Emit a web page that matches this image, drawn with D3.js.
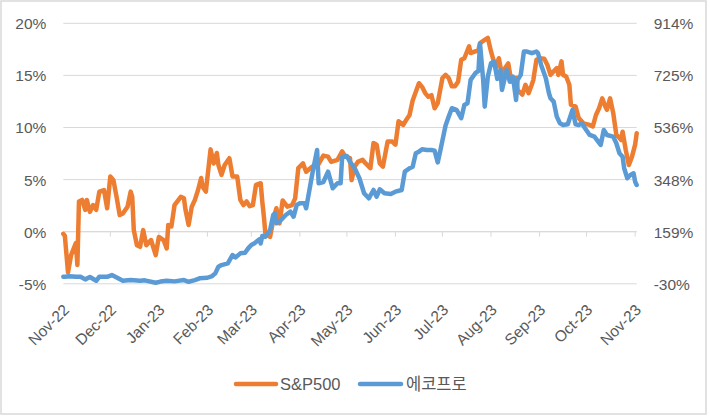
<!DOCTYPE html>
<html><head><meta charset="utf-8">
<script src="https://cdn.jsdelivr.net/npm/d3@7"></script>
<style>
body{margin:0;background:#fff;}
svg{display:block;font-family:"Liberation Sans",Arial,"Noto Sans CJK KR",sans-serif;}
</style></head><body>
<svg id="chart" width="710" height="416"></svg>
<script>
const seriesNames = ["S&P500", "에코프로"];
const spDates = ["2022-11-01","2022-11-02","2022-11-04","2022-11-06","2022-11-09","2022-11-10","2022-11-11","2022-11-13","2022-11-15","2022-11-16","2022-11-18","2022-11-20","2022-11-22","2022-11-24","2022-11-27","2022-11-29","2022-12-01","2022-12-03","2022-12-05","2022-12-07","2022-12-09","2022-12-12","2022-12-14","2022-12-15","2022-12-16","2022-12-18","2022-12-20","2022-12-22","2022-12-24","2022-12-27","2022-12-30","2023-01-01","2023-01-04","2023-01-06","2023-01-07","2023-01-09","2023-01-11","2023-01-15","2023-01-17","2023-01-18","2023-01-20","2023-01-22","2023-01-24","2023-01-26","2023-01-28","2023-01-29","2023-01-31","2023-02-02","2023-02-03","2023-02-05","2023-02-07","2023-02-08","2023-02-10","2023-02-12","2023-02-15","2023-02-17","2023-02-20","2023-02-22","2023-02-24","2023-02-26","2023-02-28","2023-03-02","2023-03-04","2023-03-07","2023-03-08","2023-03-09","2023-03-10","2023-03-13","2023-03-15","2023-03-17","2023-03-19","2023-03-21","2023-03-24","2023-03-27","2023-03-29","2023-03-31","2023-04-03","2023-04-05","2023-04-09","2023-04-11","2023-04-13","2023-04-16","2023-04-19","2023-04-21","2023-04-25","2023-04-28","2023-04-30","2023-05-03","2023-05-04","2023-05-06","2023-05-08","2023-05-11","2023-05-13","2023-05-16","2023-05-18","2023-05-20","2023-05-22","2023-05-24","2023-05-27","2023-05-30","2023-06-01","2023-06-03","2023-06-06","2023-06-08","2023-06-10","2023-06-12","2023-06-16","2023-06-18","2023-06-20","2023-06-22","2023-06-24","2023-06-26","2023-06-28","2023-07-01","2023-07-03","2023-07-05","2023-07-07","2023-07-09","2023-07-11","2023-07-13","2023-07-15","2023-07-18","2023-07-19","2023-07-22","2023-07-24","2023-07-25","2023-07-28","2023-07-30","2023-08-01","2023-08-04","2023-08-06","2023-08-08","2023-08-10","2023-08-12","2023-08-14","2023-08-17","2023-08-18","2023-08-21","2023-08-23","2023-08-25","2023-08-27","2023-08-28","2023-08-30","2023-09-01","2023-09-04","2023-09-06","2023-09-08","2023-09-10","2023-09-12","2023-09-13","2023-09-15","2023-09-16","2023-09-18","2023-09-20","2023-09-21","2023-09-24","2023-09-26","2023-09-29","2023-10-03","2023-10-05","2023-10-07","2023-10-09","2023-10-11","2023-10-13","2023-10-14","2023-10-16","2023-10-18","2023-10-20","2023-10-22","2023-10-23","2023-10-24","2023-10-26","2023-10-28","2023-10-30","2023-11-01","2023-11-02"];
const spValues = [-0.2,-0.4,-3.9,-2.25,-1.1,-3.2,2.9,3.05,2.1,3.05,1.9,2.55,2.1,3.85,4.0,2.25,5.3,4.95,3.35,1.6,1.75,2.4,3.85,3.35,0.15,-1.3,-1.45,0.15,-1.3,-0.8,-2.25,-0.5,-0.8,-1.6,0.65,0.5,2.55,3.35,3.2,2.1,0.65,2.4,3.05,4.0,5.15,4.3,3.85,6.55,7.9,6.55,7.55,6.4,5.45,6.4,7.05,5.3,5.3,3.05,2.55,2.9,2.45,2.55,4.5,4.65,2.9,1.5,-0.2,-0.5,1.1,2.25,0.8,3.0,2.4,2.55,3.2,6.1,6.55,5.75,6.25,6.25,6.5,7.3,7.2,6.7,6.9,7.7,7.2,7.05,4.95,6.25,6.7,6.9,6.55,6.1,8.5,8.35,6.55,6.25,8.65,8.65,8.35,10.6,10.25,10.75,11.2,12.6,14.25,13.9,13.3,12.95,13.1,11.85,12.35,14.75,15.05,14.75,13.95,13.95,14.4,16.5,16.65,17.8,17.15,17.3,17.45,18.1,18.4,18.6,17.3,15.7,16.65,15.05,15.7,16.15,14.4,14.75,13.6,13.15,14.1,13.3,14.1,14.55,16.5,16.65,16.6,16.0,15.05,15.4,15.7,15.05,16.35,15.05,14.9,14.1,12.2,12.0,10.9,10.4,10.25,10.1,11.2,11.85,12.8,12.0,11.7,12.8,11.4,9.3,9.0,8.8,9.6,7.85,6.4,7.2,8.35,9.45];
const ecoDates = ["2022-11-01","2022-11-02","2022-11-05","2022-11-09","2022-11-12","2022-11-15","2022-11-18","2022-11-22","2022-11-24","2022-11-29","2022-12-02","2022-12-06","2022-12-09","2022-12-14","2022-12-20","2022-12-23","2022-12-30","2023-01-02","2023-01-06","2023-01-11","2023-01-17","2023-01-20","2023-01-24","2023-01-27","2023-02-01","2023-02-04","2023-02-06","2023-02-08","2023-02-10","2023-02-14","2023-02-17","2023-02-19","2023-02-22","2023-02-25","2023-02-27","2023-03-01","2023-03-03","2023-03-06","2023-03-07","2023-03-08","2023-03-10","2023-03-13","2023-03-15","2023-03-16","2023-03-17","2023-03-20","2023-03-23","2023-03-26","2023-03-28","2023-03-30","2023-04-01","2023-04-04","2023-04-05","2023-04-09","2023-04-12","2023-04-13","2023-04-16","2023-04-19","2023-04-22","2023-04-25","2023-04-27","2023-04-28","2023-05-01","2023-05-03","2023-05-06","2023-05-09","2023-05-12","2023-05-15","2023-05-18","2023-05-20","2023-05-22","2023-05-25","2023-05-29","2023-06-01","2023-06-05","2023-06-07","2023-06-10","2023-06-12","2023-06-14","2023-06-16","2023-06-18","2023-06-21","2023-06-24","2023-06-26","2023-06-28","2023-06-30","2023-07-03","2023-07-05","2023-07-07","2023-07-10","2023-07-13","2023-07-15","2023-07-17","2023-07-19","2023-07-22","2023-07-24","2023-07-25","2023-07-27","2023-07-28","2023-07-30","2023-08-01","2023-08-03","2023-08-05","2023-08-07","2023-08-08","2023-08-11","2023-08-13","2023-08-15","2023-08-17","2023-08-18","2023-08-20","2023-08-22","2023-08-24","2023-08-27","2023-08-30","2023-08-31","2023-09-02","2023-09-05","2023-09-07","2023-09-08","2023-09-10","2023-09-12","2023-09-14","2023-09-16","2023-09-19","2023-09-22","2023-09-24","2023-09-26","2023-09-28","2023-09-30","2023-10-03","2023-10-06","2023-10-10","2023-10-12","2023-10-14","2023-10-18","2023-10-20","2023-10-22","2023-10-24","2023-10-25","2023-10-27","2023-10-29","2023-10-31","2023-11-01","2023-11-02"];
const ecoValues = [-4.1,-4.1,-2,-4.1,-4.1,-13.6,-5,-18.6,-4.1,-4.1,2,-9.9,-18.6,-16.1,-18.6,-17,-25.9,-21.5,-18.6,-20.8,-16.1,-22.3,-16.1,-9.9,-7.7,-1.6,8.2,32.1,38.3,44.4,74.5,66.2,80.7,82.9,98.8,110.8,116.9,131.4,116.9,143.4,140.9,165.2,219.5,225.7,189.5,201.4,219.5,231.5,213.4,255.8,261.9,261.9,243.8,370.7,455.2,334.5,339,376.5,316.3,334.5,334.5,430,433.4,412,388.8,352.6,298.2,280,310.2,285.9,312.7,298.2,295.7,304,310.2,376.5,388.8,394.6,443.2,449,457.7,455.2,455.2,452.6,410,462,544,575.9,606.3,600.2,570.1,618.3,624.5,708.9,733.2,741.5,839.4,708.9,612.1,720.9,769.5,775.3,712.5,745.2,672.7,745.2,702.8,720.9,636.4,708.9,727,811.5,811.5,805.7,811.5,805.7,763.3,715.1,660.7,642.6,630.3,575.9,551.9,545.8,548.3,600.2,548.3,545.8,551.9,533.8,509.5,503.4,473.3,527.7,509.5,503.4,479.5,443.2,430.9,388.8,352.6,364.5,370.7,340.3,328.3];
const leftTicks = [-5, 0, 5, 10, 15, 20];
const rightTicks = [-29.6, 159.1, 347.8, 536.4, 725.2, 913.9];
const rightTickLabels = ["-30%", "159%", "348%", "536%", "725%", "914%"];
const xStart = "2022-11-01", xEnd = "2023-11-02";

const parse = d3.timeParse("%Y-%m-%d");
const svg = d3.select("#chart");
const plot = {left: 63.3, right: 636.7, top: 23.3, bottom: 283.8};
const textColor = "#595959", gridColor = "#d9d9d9";
const colors = ["#ED7D31", "#5B9BD5"];

svg.append("rect").attr("x", 1).attr("y", 1).attr("width", 705).attr("height", 413)
  .attr("fill", "#fff").attr("stroke", gridColor).attr("stroke-width", 1.5);

const x = d3.scaleTime().domain([parse(xStart), parse(xEnd)]).range([plot.left, plot.right]);
const yL = d3.scaleLinear().domain([-5, 20]).range([plot.bottom, plot.top]);
const yR = d3.scaleLinear().domain([rightTicks[0], rightTicks[rightTicks.length - 1]]).range([plot.bottom, plot.top]);

// gridlines
svg.append("g").selectAll("line").data(leftTicks).join("line")
  .attr("x1", plot.left).attr("x2", plot.right)
  .attr("y1", d => yL(d)).attr("y2", d => yL(d))
  .attr("stroke", gridColor).attr("stroke-width", 1);

// left axis
const gL = svg.append("g").attr("transform", `translate(${plot.left - 17},0)`)
  .call(d3.axisLeft(yL).tickValues(leftTicks).tickFormat(d => `${d}%`).tickSize(0).tickPadding(0));
gL.select(".domain").remove();
gL.selectAll("text").attr("fill", textColor).style("font-size", "15.5px").attr("dy", "0.35em");

// right axis
const gR = svg.append("g").attr("transform", `translate(${plot.right + 17},0)`)
  .call(d3.axisRight(yR).tickValues(rightTicks).tickFormat((d, i) => rightTickLabels[i]).tickSize(0).tickPadding(0));
gR.select(".domain").remove();
gR.selectAll("text").attr("fill", textColor).style("font-size", "15.5px").attr("dy", "0.35em");

// category axis at 0%
const months = d3.timeMonth.range(parse(xStart), parse(xEnd));
const y0 = yL(0);
svg.append("line").attr("x1", plot.left).attr("x2", plot.right).attr("y1", y0).attr("y2", y0)
  .attr("stroke", gridColor).attr("stroke-width", 1);
svg.append("g").selectAll("line").data(months).join("line")
  .attr("x1", d => x(d)).attr("x2", d => x(d)).attr("y1", y0).attr("y2", y0 + 5)
  .attr("stroke", gridColor).attr("stroke-width", 1);
const fmt = d3.timeFormat("%b-%y");
svg.append("g").selectAll("text").data(months).join("text")
  .attr("transform", d => `translate(${x(d) + 3},307) rotate(-45)`)
  .attr("text-anchor", "end").attr("dy", "0.35em")
  .attr("fill", textColor).style("font-size", "15.5px")
  .text(d => fmt(d));

// lines
const sp = spDates.map((d, i) => ({date: parse(d), v: spValues[i]}));
const eco = ecoDates.map((d, i) => ({date: parse(d), v: ecoValues[i]}));
const lineL = d3.line().x(d => x(d.date)).y(d => yL(d.v));
const lineR = d3.line().x(d => x(d.date)).y(d => yR(d.v));
svg.append("path").datum(sp).attr("d", lineL).attr("fill", "none")
  .attr("stroke", colors[0]).attr("stroke-width", 4.5).attr("stroke-linejoin", "round").attr("stroke-linecap", "round");
svg.append("path").datum(eco).attr("d", lineR).attr("fill", "none")
  .attr("stroke", colors[1]).attr("stroke-width", 4.5).attr("stroke-linejoin", "round").attr("stroke-linecap", "round");

// legend
const legendItems = [{x1: 236, x2: 276, tx: 280}, {x1: 360, x2: 401, tx: 406}];
const lg = svg.append("g");
legendItems.forEach((it, i) => {
  lg.append("line").attr("x1", it.x1).attr("x2", it.x2).attr("y1", 384).attr("y2", 384)
    .attr("stroke", colors[i]).attr("stroke-width", 4.5).attr("stroke-linecap", "round");
  lg.append("text").attr("x", it.tx).attr("y", 384).attr("dy", "0.35em")
    .attr("fill", textColor).style("font-size", "16.5px").text(seriesNames[i]);
});
</script>
</body></html>
